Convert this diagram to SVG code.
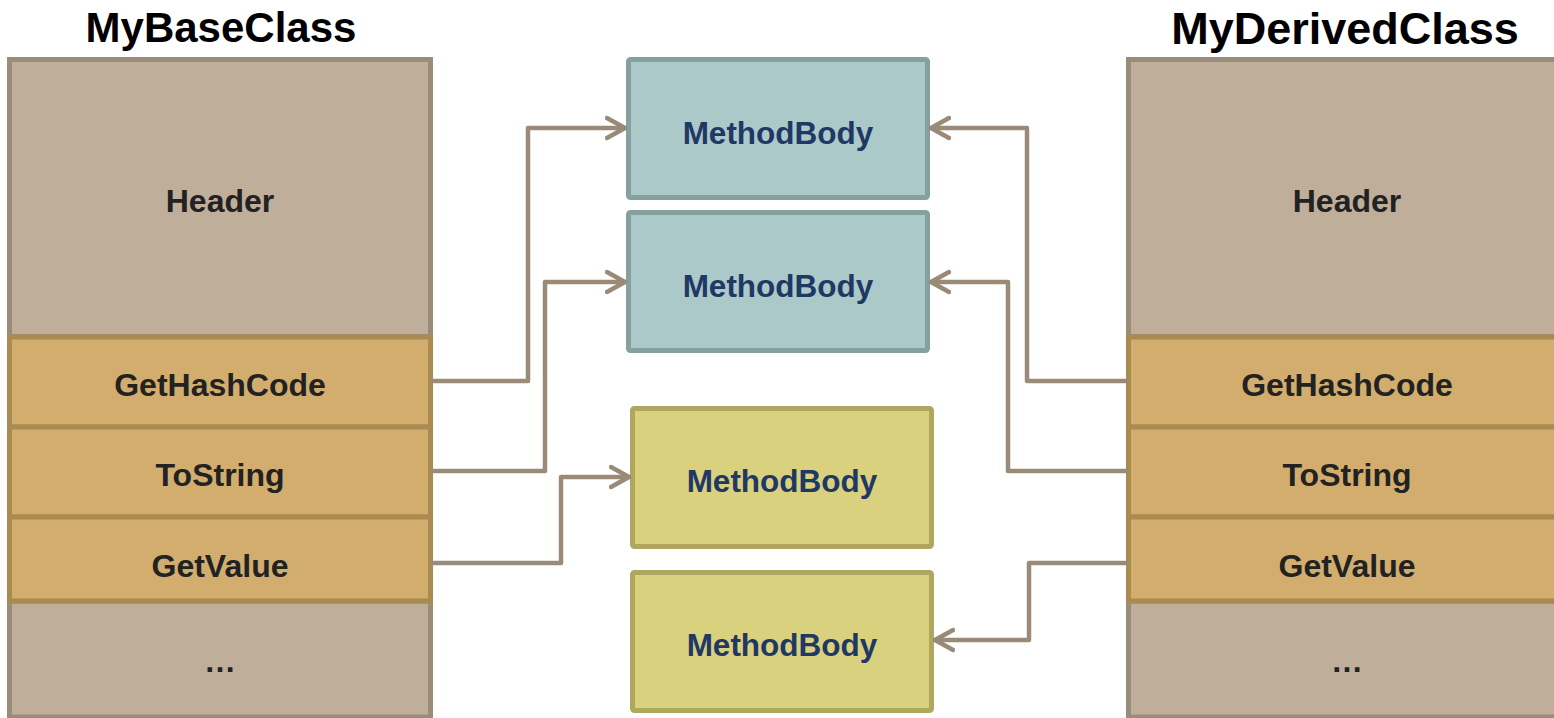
<svg xmlns="http://www.w3.org/2000/svg" width="1554" height="718" viewBox="0 0 1554 718">
  <style>
    .title { font-family: "Liberation Sans", Arial, sans-serif; font-weight: bold; font-size: 42px; fill: #000; text-anchor: middle; }
    .lbl { font-family: "Liberation Sans", Arial, sans-serif; font-weight: bold; font-size: 32px; fill: #222; text-anchor: middle; }
    .mlbl { font-family: "Liberation Sans", Arial, sans-serif; font-weight: bold; font-size: 31.5px; fill: #1f3864; text-anchor: middle; }
    .hdr { fill: #bfae99; stroke: #9a8c7a; stroke-width: 5; }
    .slot { fill: #d2ad6e; stroke: #a98a50; stroke-width: 5; }
    .teal { fill: #abc9c9; stroke: #84a09f; stroke-width: 5; }
    .yel { fill: #d9d17d; stroke: #afa660; stroke-width: 5; }
    .wire { fill: none; stroke: #9a8b78; stroke-width: 4.5; stroke-linejoin: round; stroke-linecap: round; }
  </style>
  <defs>
    <marker id="arrow" markerUnits="userSpaceOnUse" markerWidth="24" markerHeight="26" refX="20" refY="12" orient="auto" viewBox="0 0 24 24">
      <path d="M2,2 L20,12 L2,22" fill="none" stroke="#9a8b78" stroke-width="4.5" stroke-linecap="round" stroke-linejoin="round"/>
    </marker>
  </defs>

  <rect width="1554" height="718" fill="#ffffff"/>

  <!-- base class table -->
  <g id="base-class">
    <text class="title" x="221" y="42">MyBaseClass</text>
    <rect class="hdr" x="9.5" y="59.5" width="421" height="277"/>
    <text class="lbl" x="220" y="212">Header</text>
    <rect class="hdr" x="9.5" y="601" width="421" height="116"/>
    <text class="lbl" x="220" y="672">…</text>
  </g>
  <g id="base-gethashcode">
    <rect class="slot" x="9.5" y="337" width="421" height="90"/>
    <text class="lbl" x="220" y="396">GetHashCode</text>
  </g>
  <g id="base-tostring">
    <rect class="slot" x="9.5" y="427" width="421" height="90"/>
    <text class="lbl" x="220" y="486">ToString</text>
  </g>
  <g id="base-getvalue">
    <rect class="slot" x="9.5" y="517" width="421" height="84"/>
    <text class="lbl" x="220" y="577">GetValue</text>
  </g>

  <!-- derived class table -->
  <g id="derived-class">
    <text class="title" x="1345" y="44" style="font-size:45px">MyDerivedClass</text>
    <rect class="hdr" x="1128.5" y="59.5" width="440" height="277"/>
    <text class="lbl" x="1347" y="212">Header</text>
    <rect class="hdr" x="1128.5" y="601" width="440" height="116"/>
    <text class="lbl" x="1347" y="672">…</text>
  </g>
  <g id="derived-gethashcode">
    <rect class="slot" x="1128.5" y="337" width="440" height="90"/>
    <text class="lbl" x="1347" y="396">GetHashCode</text>
  </g>
  <g id="derived-tostring">
    <rect class="slot" x="1128.5" y="427" width="440" height="90"/>
    <text class="lbl" x="1347" y="486">ToString</text>
  </g>
  <g id="derived-getvalue">
    <rect class="slot" x="1128.5" y="517" width="440" height="84"/>
    <text class="lbl" x="1347" y="577">GetValue</text>
  </g>

  <!-- method bodies -->
  <g id="body-1">
    <rect class="teal" x="628.5" y="59.5" width="299" height="138" rx="2"/>
    <text class="mlbl" x="778" y="144">MethodBody</text>
  </g>
  <g id="body-2">
    <rect class="teal" x="628.5" y="212.5" width="299" height="138" rx="2"/>
    <text class="mlbl" x="778" y="297">MethodBody</text>
  </g>
  <g id="body-3">
    <rect class="yel" x="632.5" y="408.5" width="299" height="138" rx="2"/>
    <text class="mlbl" x="782" y="492">MethodBody</text>
  </g>
  <g id="body-4">
    <rect class="yel" x="632.5" y="572.5" width="299" height="138" rx="2"/>
    <text class="mlbl" x="782" y="656">MethodBody</text>
  </g>

  <!-- slot-to-body pointers -->
  <g id="connectors">
    <path class="wire" marker-end="url(#arrow)" d="M432,381 H528 V128 H625"/>
    <path class="wire" marker-end="url(#arrow)" d="M432,471 H545 V282 H625"/>
    <path class="wire" marker-end="url(#arrow)" d="M432,563 H561 V477 H629"/>
    <path class="wire" marker-end="url(#arrow)" d="M1126,381 H1027 V128 H931"/>
    <path class="wire" marker-end="url(#arrow)" d="M1126,471 H1008 V282 H931"/>
    <path class="wire" marker-end="url(#arrow)" d="M1126,563 H1029 V640 H935"/>
  </g>
</svg>
